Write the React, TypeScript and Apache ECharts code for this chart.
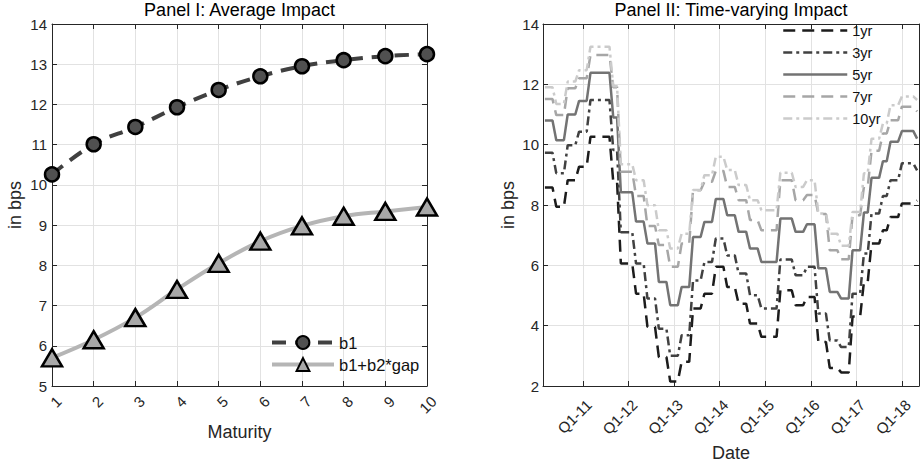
import React, { useEffect, useRef } from "react";
import * as echarts from "echarts";

// ---------- Panel I data ----------
const maturities = [1, 2, 3, 4, 5, 6, 7, 8, 9, 10];
const b1 = [10.26, 11.01, 11.44, 11.93, 12.36, 12.7, 12.95, 13.1, 13.2, 13.25];
const b1b2gap = [5.7, 6.15, 6.7, 7.4, 8.05, 8.6, 8.98, 9.22, 9.34, 9.45];

// ---------- Panel II data (monthly, first point = 10 months before Q1-11) ----------
const firstMonth = -10; // months relative to January 2011
const impact1yr = [
  8.58, 8.58, 8.58, 7.94, 7.94, 7.94, 8.82, 8.82, 8.82, 9.27, 9.27, 9.27,
  10.26, 10.26, 10.26, 10.26, 10.26, 10.26, 8.77, 8.77,
  6.06, 6.06, 6.06, 6.06, 5.06, 5.06, 5.06, 3.96, 3.96, 3.96, 2.96, 2.96, 2.96,
  2.15, 2.15, 2.15, 2.8, 2.8, 2.8, 4.57, 4.57, 4.57, 5.06, 5.06, 5.06,
  5.95, 5.95, 5.95, 5.28, 5.28, 5.28, 4.73, 4.73, 4.73, 4.07, 4.07, 4.07,
  3.63, 3.63, 3.63, 3.63, 3.63, 5.17, 5.17, 5.17, 5.17,
  4.68, 4.68, 4.68, 4.95, 4.95, 4.95, 3.46, 3.46, 3.46, 2.6, 2.6, 2.6,
  2.45, 2.45, 2.45, 4.3, 4.3, 4.3, 5.45, 5.45, 6.72, 6.72, 6.72,
  7.16, 7.16, 7.6, 7.6, 7.6, 8.05, 8.05, 8.05, 8.05, 8.15,
];
const impact3yr = [
  9.73, 9.73, 9.73, 9.05, 9.05, 9.05, 9.98, 9.98, 9.98, 10.43, 10.43, 10.43,
  11.48, 11.48, 11.48, 11.48, 11.48, 11.48, 9.82, 9.82,
  7.1, 7.1, 7.1, 7.1, 6.06, 6.06, 6.06, 4.9, 4.9, 4.9, 3.9, 3.9, 3.9,
  3.0, 3.0, 3.0, 3.68, 3.68, 3.68, 5.5, 5.5, 5.5, 6.11, 6.11, 6.11,
  6.89, 6.89, 6.89, 6.33, 6.33, 6.33, 5.73, 5.73, 5.73, 5.01, 5.01, 5.01,
  4.57, 4.57, 4.57, 4.57, 4.57, 6.19, 6.19, 6.19, 6.19,
  5.67, 5.67, 5.67, 5.95, 5.95, 5.95, 4.4, 4.4, 4.4, 3.51, 3.51, 3.51,
  3.29, 3.29, 3.29, 5.06, 5.06, 5.06, 6.39, 6.39, 7.72, 7.72, 7.72,
  8.3, 8.3, 8.82, 8.82, 8.82, 9.38, 9.38, 9.38, 9.38, 9.15,
];
const impact5yr = [
  10.8, 10.8, 10.8, 10.15, 10.15, 10.15, 11.0, 11.0, 11.0, 11.45, 11.45, 11.45,
  12.38, 12.38, 12.38, 12.38, 12.38, 12.38, 10.9, 10.9,
  8.42, 8.42, 8.42, 8.42, 7.45, 7.45, 7.45, 6.72, 6.72, 6.72, 5.45, 5.45, 5.45,
  4.68, 4.68, 4.68, 5.28, 5.28, 5.28, 6.94, 6.94, 6.94, 7.44, 7.44, 7.44,
  8.2, 8.2, 8.2, 7.66, 7.66, 7.66, 7.11, 7.11, 7.11, 6.56, 6.56, 6.56,
  6.11, 6.11, 6.11, 6.11, 6.11, 7.55, 7.55, 7.55, 7.55,
  7.11, 7.11, 7.11, 7.36, 7.36, 7.36, 5.9, 5.9, 5.9, 5.12, 5.12, 5.12,
  4.9, 4.9, 4.9, 6.5, 6.5, 6.5, 7.75, 7.75, 8.9, 8.9, 8.9,
  9.45, 9.45, 10.1, 10.1, 10.1, 10.45, 10.45, 10.45, 10.45, 10.2,
];
const impact7yr = [
  11.51, 11.51, 11.51, 10.98, 10.98, 10.98, 11.87, 11.87, 11.87, 12.2, 12.2, 12.2,
  12.97, 12.97, 12.97, 12.97, 12.97, 12.97, 11.9, 11.9,
  9.1, 9.1, 9.1, 9.1, 8.3, 8.3, 8.3, 7.3, 7.3, 7.3, 6.67, 6.67, 6.67,
  5.95, 5.95, 5.95, 6.72, 6.72, 6.72, 8.49, 8.49, 8.49, 8.77, 8.77, 8.77,
  9.13, 9.13, 9.13, 8.6, 8.6, 8.6, 8.16, 8.16, 8.16, 7.5, 7.5, 7.5,
  7.16, 7.16, 7.16, 7.16, 7.16, 8.82, 8.82, 8.82, 8.82,
  8.16, 8.16, 8.16, 8.33, 8.33, 8.33, 7.7, 7.7, 7.7, 6.5, 6.5, 6.5,
  6.2, 6.2, 6.2, 7.66, 7.66, 7.66, 8.6, 8.6, 9.8, 9.8, 9.8,
  10.37, 10.37, 10.81, 10.81, 10.81, 11.26, 11.26, 11.26, 11.26, 11.1,
];
const impact10yr = [
  11.9, 11.9, 11.9, 11.35, 11.35, 11.35, 12.09, 12.09, 12.09, 12.47, 12.47, 12.47,
  13.25, 13.25, 13.25, 13.25, 13.25, 13.25, 11.94, 11.94,
  9.35, 9.35, 9.35, 9.35, 8.82, 8.82, 8.82, 7.99, 7.99, 7.99, 7.16, 7.16, 7.16,
  6.56, 6.56, 6.56, 7.05, 7.05, 7.05, 8.5, 8.5, 8.5, 8.99, 8.99, 8.99,
  9.6, 9.6, 9.6, 9.16, 9.16, 9.16, 8.66, 8.66, 8.66, 8.16, 8.16, 8.16,
  7.83, 7.83, 7.83, 7.83, 7.83, 9.07, 9.07, 9.07, 9.07,
  8.6, 8.6, 8.6, 8.82, 8.82, 8.82, 7.72, 7.72, 7.72, 7.05, 7.05, 7.05,
  6.65, 6.65, 6.65, 7.77, 7.77, 7.77, 9.05, 9.05, 10.2, 10.2, 10.2,
  10.7, 10.7, 11.31, 11.31, 11.31, 11.6, 11.6, 11.6, 11.6, 11.48,
];
const seriesNames = ["1yr", "3yr", "5yr", "7yr", "10yr"];
const dateTicks = [0, 12, 24, 36, 48, 60, 72, 84];
const dateTickLabels = ["Q1-11", "Q1-12", "Q1-13", "Q1-14", "Q1-15", "Q1-16", "Q1-17", "Q1-18"];

const FONT = '"Liberation Sans", Arial, Helvetica, sans-serif';
const AX = "#262626";
const GRIDC = "#e2e2e2";

function toPairs(values: number[]) {
  return values.map((v, i) => [firstMonth + i, v]);
}

export default function App() {
  const ref = useRef<HTMLDivElement>(null);
  useEffect(() => {
    if (!ref.current) return;
    const chart = echarts.init(ref.current, undefined, { renderer: "svg" });

    const axisLine = { show: true, onZero: false, lineStyle: { color: AX, width: 1 } };
    const axisTick = { show: true, inside: true, length: 5, lineStyle: { color: AX } };
    const mirror = {
      axisLine,
      axisTick,
      axisLabel: { show: false },
      splitLine: { show: false },
    };
    const rotLabel = {
      rotate: 45,
      fontSize: 15,
      color: AX,
      margin: 6,
      align: "right",
      verticalAlign: "top",
      fontFamily: FONT,
    };

    const styles: any[] = [
      { color: "#1c1c1c", type: [12, 7] },
      { color: "#414141", type: [9, 4, 3, 4] },
      { color: "#737373", type: "solid" },
      { color: "#a6a6a6", type: [12, 7] },
      { color: "#cbcbcb", type: [9, 4, 3, 4] },
    ];
    const impacts = [impact1yr, impact3yr, impact5yr, impact7yr, impact10yr];

    chart.setOption({
      animation: false,
      textStyle: { fontFamily: FONT },
      graphic: [
        {
          type: "text",
          x: 239.5,
          y: 10,
          style: {
            text: "Panel I: Average Impact",
            textAlign: "center",
            textVerticalAlign: "middle",
            fontSize: 18,
            fontFamily: FONT,
            fill: "#000",
          },
        },
        {
          type: "text",
          x: 731,
          y: 10,
          style: {
            text: "Panel II: Time-varying Impact",
            textAlign: "center",
            textVerticalAlign: "middle",
            fontSize: 18,
            fontFamily: FONT,
            fill: "#000",
          },
        },
      ],
      grid: [
        { left: 52, top: 24, width: 375, height: 362, outerBoundsMode: "none", containLabel: false },
        { left: 543, top: 24, width: 376, height: 362, outerBoundsMode: "none", containLabel: false },
      ],
      legend: [
        {
          data: ["b1", "b1+b2*gap"],
          orient: "vertical",
          left: 270,
          top: 334,
          padding: 0,
          itemWidth: 62,
          itemHeight: 16,
          itemGap: 5,
          selectedMode: false,
          lineStyle: { width: 4 },
          textStyle: { fontSize: 16.5, color: "#111", fontFamily: FONT },
        },
        {
          data: seriesNames,
          orient: "vertical",
          left: 782,
          top: 23,
          padding: 0,
          itemWidth: 64,
          itemHeight: 15,
          itemGap: 7,
          selectedMode: false,
          itemStyle: { opacity: 0 },
          lineStyle: { width: 2.5 },
          textStyle: { fontSize: 14.5, color: "#111", fontFamily: FONT },
        },
      ],
      xAxis: [
        {
          gridIndex: 0,
          type: "value",
          min: 1,
          max: 10,
          interval: 1,
          position: "bottom",
          name: "Maturity",
          nameLocation: "middle",
          nameGap: 35,
          nameTextStyle: { fontSize: 18, color: AX, fontFamily: FONT },
          axisLine,
          axisTick,
          axisLabel: { ...rotLabel, padding: [2, 0, 0, 0] },
          splitLine: { show: true, lineStyle: { color: GRIDC, width: 1 } },
        },
        {
          gridIndex: 1,
          type: "value",
          min: -10.5,
          max: 88.5,
          position: "bottom",
          name: "Date",
          nameLocation: "middle",
          nameGap: 54,
          nameTextStyle: { fontSize: 18, color: AX, fontFamily: FONT },
          axisLine,
          axisTick: { ...axisTick, customValues: dateTicks },
          axisLabel: {
            ...rotLabel,
            padding: [4, 3, 0, 0],
            customValues: dateTicks,
            formatter: (v: number) => dateTickLabels[dateTicks.indexOf(v)] ?? "",
          },
          splitLine: { show: true, lineStyle: { color: GRIDC, width: 1 } },
        },
        { gridIndex: 0, type: "value", min: 1, max: 10, interval: 1, position: "top", ...mirror },
        {
          gridIndex: 1,
          type: "value",
          min: -10.5,
          max: 88.5,
          position: "top",
          axisLine,
          axisTick: { ...axisTick, customValues: dateTicks },
          axisLabel: { show: false, customValues: dateTicks },
          splitLine: { show: false },
        },
      ],
      yAxis: [
        {
          gridIndex: 0,
          type: "value",
          min: 5,
          max: 14,
          interval: 1,
          position: "left",
          name: "in bps",
          nameLocation: "middle",
          nameGap: 28,
          nameTextStyle: { fontSize: 18, color: AX, fontFamily: FONT },
          axisLine,
          axisTick,
          axisLabel: { fontSize: 15, color: AX, margin: 5, fontFamily: FONT },
          splitLine: { show: true, lineStyle: { color: GRIDC, width: 1 } },
        },
        {
          gridIndex: 1,
          type: "value",
          min: 2,
          max: 14,
          interval: 2,
          position: "left",
          name: "in bps",
          nameLocation: "middle",
          nameGap: 26,
          nameTextStyle: { fontSize: 18, color: AX, fontFamily: FONT },
          axisLine,
          axisTick,
          axisLabel: { fontSize: 15, color: AX, margin: 4, fontFamily: FONT },
          splitLine: { show: true, lineStyle: { color: GRIDC, width: 1 } },
        },
        { gridIndex: 0, type: "value", min: 5, max: 14, interval: 1, position: "right", ...mirror },
        { gridIndex: 1, type: "value", min: 2, max: 14, interval: 2, position: "right", ...mirror },
      ],
      series: [
        {
          name: "b1",
          type: "line",
          xAxisIndex: 0,
          yAxisIndex: 0,
          data: maturities.map((m, i) => [m, b1[i]]),
          smooth: 0.4,
          symbol: "circle",
          symbolSize: 14,
          lineStyle: { color: "#404040", width: 4, type: [14, 9] },
          itemStyle: { color: "#505050", borderColor: "#000", borderWidth: 2.5 },
          z: 3,
        },
        {
          name: "b1+b2*gap",
          type: "line",
          xAxisIndex: 0,
          yAxisIndex: 0,
          data: maturities.map((m, i) => [m, b1b2gap[i]]),
          smooth: 0.4,
          symbol: "triangle",
          symbolSize: [20, 17],
          lineStyle: { color: "#b5b5b5", width: 4 },
          itemStyle: { color: "#a8a8a8", borderColor: "#000", borderWidth: 2.5 },
          z: 3,
        },
        ...impacts.map((vals, k) => ({
          name: seriesNames[k],
          type: "line",
          xAxisIndex: 1,
          yAxisIndex: 1,
          data: toPairs(vals),
          symbol: "none",
          lineStyle: { color: styles[k].color, width: 2.5, type: styles[k].type },
          itemStyle: { color: styles[k].color },
          z: 3,
        })),
      ],
    });
    return () => chart.dispose();
  }, []);

  return (
    <div
      ref={ref}
      style={{ position: "absolute", left: 0, top: 0, width: 920, height: 466, background: "#fff" }}
    />
  );
}
